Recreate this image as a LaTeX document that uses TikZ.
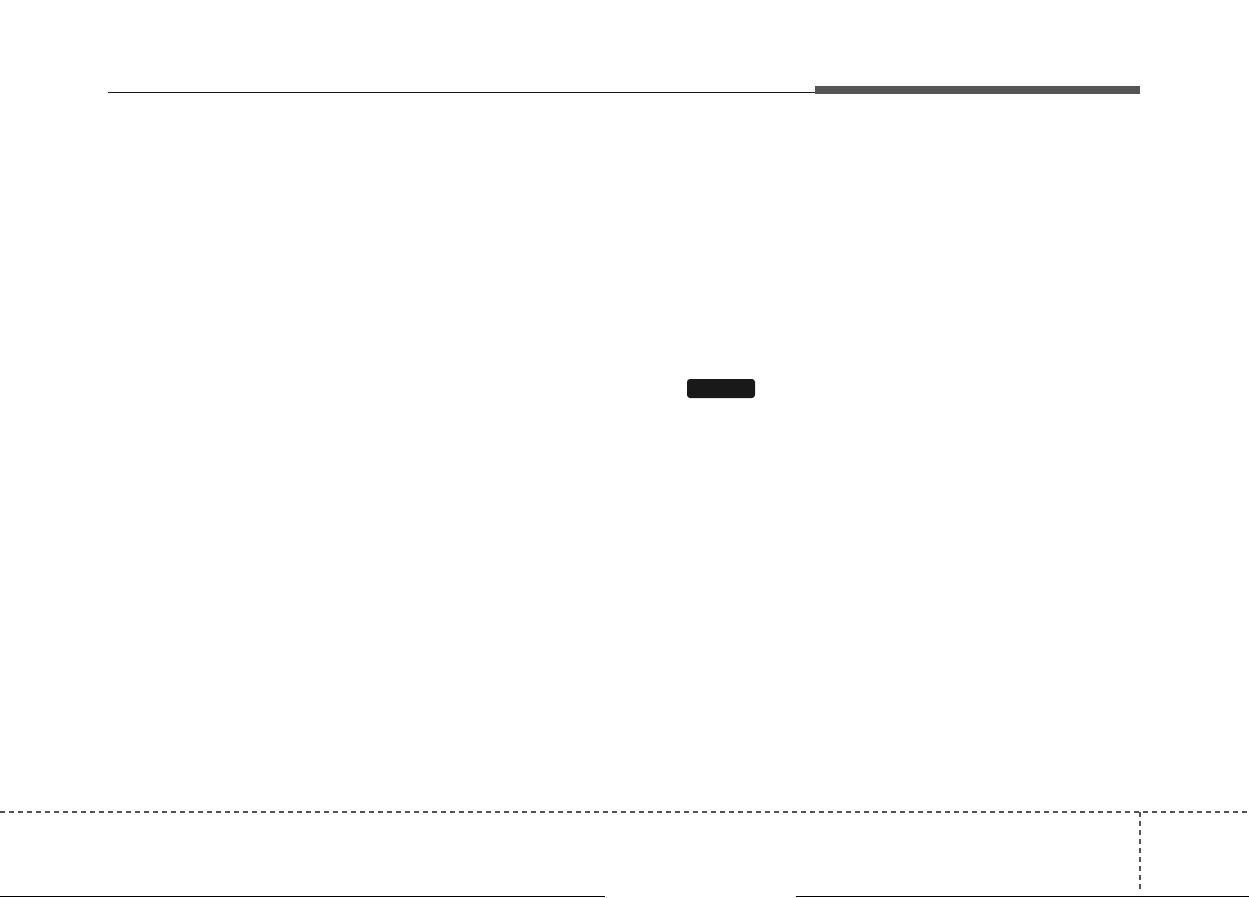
\documentclass[tikz,border=0pt]{standalone}
\usepackage{tikz}
\usetikzlibrary{calc}
\definecolor{MyDarkGrey}{rgb}{0.33,0.33,0.33}
\definecolor{MyBlack}{rgb}{0.1,0.1,0.1}

\begin{document}
\begin{tikzpicture}[x=1pt, y=-1pt]
       \tikzstyle{every node}=[font=\small]
        \useasboundingbox (0, 0) rectangle (1249, 897);
        % header
        \draw[draw=MyBlack, line width=1.3pt] (108, 92.8) -- (815, 92.8);
        \fill[MyDarkGrey] (815, 85.5) rectangle (1140, 93.5);
        % small black tag
        \node[fill=MyBlack, rounded corners=3pt, minimum width=68pt, minimum height=19pt, inner sep=0pt] (tag) at (721, 388.5) {};
        % footer
        \draw[draw=MyDarkGrey, line width=2pt, dash pattern=on 5pt off 4pt] (0, 812) -- (1249, 812);
        \draw[draw=MyDarkGrey, line width=2pt, dash pattern=on 5pt off 4pt] (1140, 812) -- (1140, 892);
        \draw[draw=black, line width=1pt] (0, 896.5) -- (605, 896.5);
        \draw[draw=black, line width=1pt] (796, 896.5) -- (1249, 896.5);
      \end{tikzpicture}
\end{document}
